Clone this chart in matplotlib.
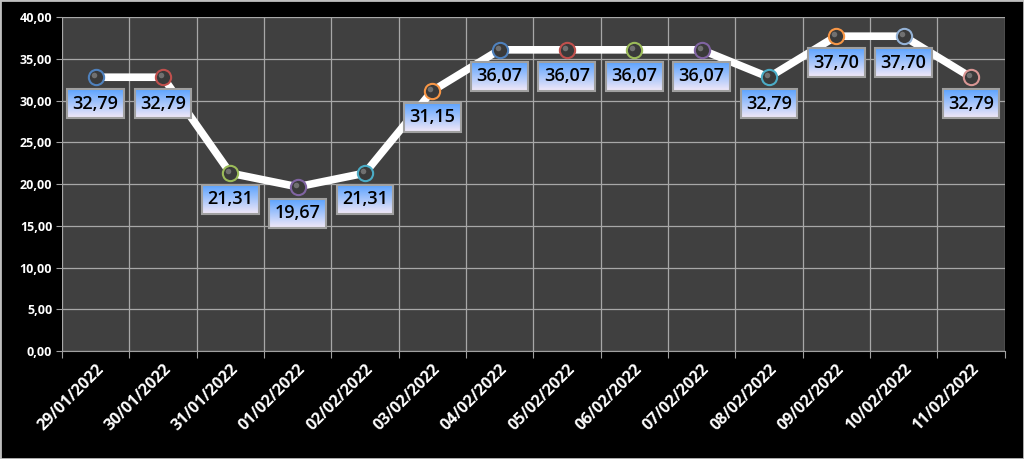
import matplotlib
matplotlib.use("Agg")
import matplotlib.pyplot as plt
import numpy as np
from matplotlib.patches import Rectangle
from matplotlib.ticker import FuncFormatter, FixedLocator

# --- Data ---
dates = ["29/01/2022", "30/01/2022", "31/01/2022", "01/02/2022", "02/02/2022",
         "03/02/2022", "04/02/2022", "05/02/2022", "06/02/2022", "07/02/2022",
         "08/02/2022", "09/02/2022", "10/02/2022", "11/02/2022"]
values = [32.79, 32.79, 21.31, 19.67, 21.31, 31.15, 36.07,
          36.07, 36.07, 36.07, 32.79, 37.70, 37.70, 32.79]
marker_edges = ["#4F81BD", "#C0504D", "#9BBB59", "#8064A2", "#4BACC6", "#F79646",
                "#4F81BD", "#C0504D", "#9BBB59", "#8064A2", "#4BACC6", "#F79646",
                "#95B3D7", "#D99694"]
y_ticks = [0, 5, 10, 15, 20, 25, 30, 35, 40]

plt.rcParams['font.family'] = ['Open Sans', 'DejaVu Sans']

fig = plt.figure(figsize=(10.24, 4.59), dpi=100, facecolor='black')
ax = fig.add_axes([0.0605, 0.235, 0.9205, 0.728])
ax.set_facecolor('#404040')

x = np.arange(len(dates))
ax.plot(x, values, color='white', lw=5.5, zorder=3, solid_joinstyle='miter')
for xi, v, ec in zip(x, values, marker_edges):
    ax.plot(xi, v, 'o', ms=11, mfc='#3A3A3A', mec=ec, mew=1.5, zorder=4)
    ax.plot(xi - 0.03, v + 0.25, 'o', ms=4, mfc='#707070', mec='none', zorder=5)

ax.set_xlim(-0.5, len(dates) - 0.5)
ax.set_ylim(0, 40)

# grid at category boundaries
ax.xaxis.set_major_locator(FixedLocator(np.arange(-0.5, len(dates), 1.0)))
ax.xaxis.set_minor_locator(FixedLocator(x))
ax.xaxis.set_major_formatter(FuncFormatter(lambda v, p: ""))
ax.set_xticklabels(dates, minor=True, rotation=45, ha='right', va='top',
                   rotation_mode='anchor', color='white', fontsize=11.5, fontweight='bold')
ax.tick_params(axis='x', which='minor', length=0, pad=7)
ax.tick_params(axis='x', which='major', length=5, color='#A0A0A0')

ax.set_yticks(y_ticks)
ax.yaxis.set_major_formatter(FuncFormatter(lambda v, p: f"{v:.2f}".replace('.', ',')))
ax.tick_params(axis='y', length=4, color='#A0A0A0', labelcolor='white', labelsize=9, pad=3)
for lab in ax.get_yticklabels():
    lab.set_fontweight('bold')

ax.grid(True, which='major', color='#A8A8A8', lw=0.9)
ax.set_axisbelow(True)
for s in ['top', 'right', 'left']:
    ax.spines[s].set_visible(False)
ax.spines['bottom'].set_color('#A0A0A0')

# data labels
texts = []
for xi, v in zip(x, values):
    t = ax.annotate(f"{v:.2f}".replace('.', ','), (xi, v), xytext=(0, -12.5),
                    textcoords='offset points', ha='center', va='top',
                    fontsize=13, color='black', zorder=8, fontweight='semibold',
                    bbox=dict(boxstyle='square,pad=0.3', fc='none', ec='#A0A0A0', lw=1.5))
    texts.append(t)

fig.canvas.draw()
grad = np.linspace(0, 1, 64)[:, None]
top_c = np.array([0.36, 0.64, 1.0])
bot_c = np.array([0.95, 0.91, 0.97])
img = (top_c[None, None, :] * (1 - grad[:, :, None]) + bot_c[None, None, :] * grad[:, :, None])
inv = ax.transData.inverted()
for t in texts:
    bb = t.get_bbox_patch().get_window_extent()
    (x0, y0), (x1, y1) = inv.transform([[bb.x0, bb.y0], [bb.x1, bb.y1]])
    ax.imshow(img, extent=[x0, x1, y0, y1], aspect='auto', zorder=7, origin='upper',
              interpolation='bilinear')
ax.set_xlim(-0.5, len(dates) - 0.5)
ax.set_ylim(0, 40)

fig.patches.append(Rectangle((0, 0), 1, 1, transform=fig.transFigure, fill=False,
                             ec='#BFBFBF', lw=2))

fig.savefig('out.png', dpi=100, facecolor='black')
